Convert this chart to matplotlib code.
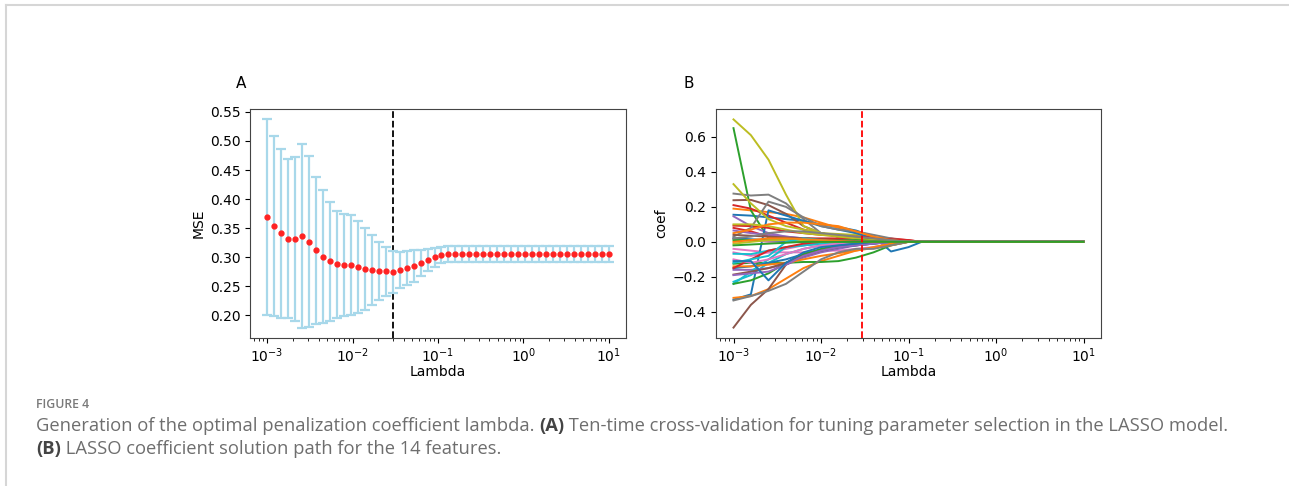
import numpy as np
import matplotlib
matplotlib.use('Agg')
import matplotlib.pyplot as plt
from matplotlib.lines import Line2D

# panel A: ten-fold CV error along the lambda path
lambdas = np.logspace(-3, 1, 50)
mse_mean = [
    0.369, 0.354, 0.341, 0.332, 0.331, 0.337, 0.327, 0.312, 0.301, 0.293,
    0.288, 0.287, 0.286, 0.283, 0.280, 0.278, 0.276, 0.2755, 0.275, 0.278,
    0.281, 0.285, 0.290, 0.2956, 0.2996, 0.304, 0.306, 0.306, 0.306, 0.306,
    0.306, 0.306, 0.306, 0.306, 0.306, 0.306, 0.306, 0.306, 0.306, 0.306,
    0.306, 0.306, 0.306, 0.306, 0.306, 0.306, 0.306, 0.306, 0.306, 0.306,
]
mse_std = [
    0.168, 0.155, 0.145, 0.137, 0.141, 0.158, 0.147, 0.126, 0.114, 0.102,
    0.092, 0.088, 0.086, 0.079, 0.070, 0.060, 0.050, 0.042, 0.036, 0.031,
    0.029, 0.027, 0.023, 0.019, 0.017, 0.014, 0.0135, 0.0135, 0.0135, 0.0135,
    0.0135, 0.0135, 0.0135, 0.0135, 0.0135, 0.0135, 0.0135, 0.0135, 0.0135, 0.0135,
    0.0135, 0.0135, 0.0135, 0.0135, 0.0135, 0.0135, 0.0135, 0.0135, 0.0135, 0.0135,
]
best_lambda = 0.0294

# panel B: coefficient paths, read at these lambdas
lam_b = [0.001, 0.00158, 0.00251, 0.00398, 0.00631, 0.01, 0.0158, 0.0251,
         0.0398, 0.0631, 0.1, 0.141, 10.0]
coef_paths = [
    [0.155, 0.15, 0.14, 0.13, 0.12, 0.10, 0.085, 0.065, 0.03, -0.055, -0.03, 0.0, 0.0],
    [0.19, 0.18, 0.17, 0.16, 0.14, 0.11, 0.08, 0.05, 0.02, 0.0, 0.0, 0.0, 0.0],
    [0.65, 0.18, 0.02, 0.02, 0.02, 0.015, 0.01, 0.005, 0.0, 0.0, 0.0, 0.0, 0.0],
    [0.21, 0.19, 0.15, 0.11, 0.07, 0.05, 0.03, 0.02, 0.01, 0.005, 0.0, 0.0, 0.0],
    [0.146, 0.09, 0.05, 0.03, 0.02, 0.01, 0.0, 0.0, 0.0, 0.0, 0.0, 0.0, 0.0],
    [0.238, 0.24, 0.21, 0.16, 0.09, 0.05, 0.03, 0.02, 0.01, 0.0, 0.0, 0.0, 0.0],
    [-0.04, -0.05, -0.06, -0.06, -0.06, -0.05, -0.05, -0.04, -0.03, -0.01, 0.0, 0.0, 0.0],
    [0.276, 0.265, 0.27, 0.22, 0.13, 0.05, 0.03, 0.02, 0.01, 0.005, 0.0, 0.0, 0.0],
    [0.70, 0.61, 0.47, 0.27, 0.09, 0.05, 0.045, 0.04, 0.02, 0.01, 0.0, 0.0, 0.0],
    [-0.228, -0.19, -0.12, -0.07, -0.04, -0.02, -0.01, 0.0, 0.0, 0.0, 0.0, 0.0, 0.0],
    [-0.33, -0.30, 0.18, 0.15, 0.12, 0.09, 0.07, 0.05, 0.02, 0.0, 0.0, 0.0, 0.0],
    [-0.32, -0.31, -0.27, -0.21, -0.15, -0.11, -0.08, -0.05, -0.03, -0.01, 0.0, 0.0, 0.0],
    [-0.125, -0.12, -0.12, -0.12, -0.115, -0.115, -0.11, -0.09, -0.06, -0.02, 0.0, 0.0, 0.0],
    [0.093, 0.09, 0.08, 0.06, 0.05, 0.04, 0.035, 0.03, 0.025, 0.02, 0.01, 0.0, 0.0],
    [-0.16, -0.16, -0.15, -0.13, -0.09, -0.06, -0.04, -0.02, -0.01, 0.0, 0.0, 0.0, 0.0],
    [-0.49, -0.36, -0.27, -0.13, -0.08, -0.05, -0.03, -0.02, -0.01, 0.0, 0.0, 0.0, 0.0],
    [-0.06, -0.08, -0.06, -0.04, -0.02, -0.01, 0.0, 0.0, 0.0, 0.0, 0.0, 0.0, 0.0],
    [0.03, 0.08, 0.23, 0.20, 0.14, 0.09, 0.07, 0.06, 0.04, 0.02, 0.0, 0.0, 0.0],
    [0.33, 0.22, 0.13, 0.09, 0.07, 0.05, 0.03, 0.02, 0.01, 0.0, 0.0, 0.0, 0.0],
    [-0.24, -0.17, -0.10, -0.03, -0.02, -0.01, 0.0, 0.0, 0.0, 0.0, 0.0, 0.0, 0.0],
    [-0.15, -0.14, -0.12, -0.10, -0.07, -0.05, -0.03, -0.02, -0.01, 0.0, 0.0, 0.0, 0.0],
    [-0.14, -0.14, -0.13, -0.12, -0.10, -0.08, -0.065, -0.05, -0.035, -0.02, 0.0, 0.0, 0.0],
    [-0.24, -0.22, -0.18, -0.12, -0.07, -0.04, -0.02, -0.01, 0.0, 0.0, 0.0, 0.0, 0.0],
    [0.08, 0.06, 0.03, 0.02, 0.02, 0.02, 0.02, 0.02, 0.02, 0.015, 0.01, 0.0, 0.0],
    [0.065, 0.05, 0.04, 0.03, 0.02, 0.01, 0.005, 0.0, 0.0, 0.0, 0.0, 0.0, 0.0],
    [-0.187, -0.17, -0.15, -0.12, -0.08, -0.05, -0.03, -0.01, 0.0, 0.0, 0.0, 0.0, 0.0],
    [0.02, 0.01, 0.0, 0.0, 0.0, 0.0, 0.0, 0.0, 0.0, 0.0, 0.0, 0.0, 0.0],
    [-0.335, -0.31, -0.28, -0.24, -0.17, -0.10, -0.06, -0.04, -0.04, -0.02, 0.0, 0.0, 0.0],
    [0.10, 0.10, 0.09, 0.07, 0.05, 0.04, 0.03, 0.02, 0.01, 0.0, 0.0, 0.0, 0.0],
    [-0.068, -0.07, -0.05, -0.03, -0.02, -0.01, 0.0, 0.0, 0.0, 0.0, 0.0, 0.0, 0.0],
    [0.02, 0.015, 0.01, 0.005, 0.0, 0.0, 0.0, 0.0, 0.0, 0.0, 0.0, 0.0, 0.0],
    [0.05, 0.07, 0.10, 0.11, 0.11, 0.10, 0.09, 0.06, 0.03, 0.01, 0.0, 0.0, 0.0],
    [0.01, 0.01, 0.01, 0.01, 0.01, 0.01, 0.01, 0.01, 0.005, 0.003, 0.0, 0.0, 0.0],
    [-0.15, -0.10, -0.05, -0.03, -0.01, 0.0, 0.0, 0.0, 0.0, 0.0, 0.0, 0.0, 0.0],
    [-0.19, -0.18, -0.17, -0.13, -0.08, -0.05, -0.03, -0.02, -0.01, 0.0, 0.0, 0.0, 0.0],
    [0.04, 0.035, 0.03, 0.025, 0.02, 0.015, 0.01, 0.005, 0.0, 0.0, 0.0, 0.0, 0.0],
    [-0.10, -0.12, -0.10, -0.07, -0.04, -0.02, -0.01, 0.0, 0.0, 0.0, 0.0, 0.0, 0.0],
    [0.02, 0.03, 0.05, 0.06, 0.06, 0.05, 0.04, 0.03, 0.02, 0.01, 0.0, 0.0, 0.0],
    [-0.01, 0.0, 0.01, 0.01, 0.005, 0.0, 0.0, 0.0, 0.0, 0.0, 0.0, 0.0, 0.0],
    [-0.12, -0.10, -0.08, 0.0, 0.02, 0.01, 0.0, 0.0, 0.0, 0.0, 0.0, 0.0, 0.0],
    [-0.11, -0.11, -0.22, -0.12, -0.06, -0.03, -0.02, -0.01, 0.0, 0.0, 0.0, 0.0, 0.0],
    [0.0, 0.01, 0.02, 0.02, 0.015, 0.01, 0.005, 0.0, 0.0, 0.0, 0.0, 0.0, 0.0],
    [-0.02, -0.015, -0.01, -0.005, 0.0, 0.0, 0.0, 0.0, 0.0, 0.0, 0.0, 0.0, 0.0],
]

caption_title = 'FIGURE 4'
caption_line1 = [('Generation of the optimal penalization coefficient lambda. ', False),
                 ('(A)', True),
                 (' Ten-time cross-validation for tuning parameter selection in the LASSO model.', False)]
caption_line2 = [('(B)', True),
                 (' LASSO coefficient solution path for the 14 features.', False)]

W, H = 1289, 486
fig = plt.figure(figsize=(W / 100, H / 100), dpi=100)


def fx(px):
    return px / W


def fy(py):
    return 1 - py / H


# page frame
fig.add_artist(Line2D([fx(6), 1], [fy(5), fy(5)], color='#d6d6d6', lw=1.5))
fig.add_artist(Line2D([fx(6), fx(6)], [fy(5), fy(486)], color='#d6d6d6', lw=1.5))

ax_a = fig.add_axes([fx(250), fy(338), fx(626) - fx(250), fy(109) - fy(338)])
ax_b = fig.add_axes([fx(716), fy(338), fx(1101) - fx(716), fy(109) - fy(338)])

ax_a.errorbar(lambdas, mse_mean, yerr=mse_std, fmt='o', color='#ff2222',
              markersize=3.5, ecolor='#a8d8ea', elinewidth=1.6, capsize=3.5,
              capthick=1.6, zorder=3)
ax_a.axvline(best_lambda, color='black', linestyle='--', lw=1.3)
ax_a.set_xscale('log')
ax_a.set_xlim(10 ** -3.2, 10 ** 1.2)
ax_a.set_xlabel('Lambda', fontsize=10, labelpad=0)
ax_a.set_ylabel('MSE', fontsize=10, labelpad=3)
ax_a.set_yticks([0.20, 0.25, 0.30, 0.35, 0.40, 0.45, 0.50, 0.55])

for path in coef_paths:
    ax_b.plot(lam_b, path, lw=1.4)
ax_b.axvline(best_lambda, color='red', linestyle='--', lw=1.3)
ax_b.set_xscale('log')
ax_b.set_xlim(10 ** -3.2, 10 ** 1.2)
ax_b.set_xlabel('Lambda', fontsize=10, labelpad=0)
ax_b.set_ylabel('coef', fontsize=10, labelpad=3)

for ax in (ax_a, ax_b):
    ax.tick_params(labelsize=10)
    ax.tick_params(axis='x', pad=2.5)
    for sp in ax.spines.values():
        sp.set_color('#444444')

fig.text(fx(236), fy(88), 'A', fontsize=11, family='DejaVu Sans')
fig.text(fx(684), fy(88), 'B', fontsize=11, family='DejaVu Sans')

fig.text(fx(36), fy(408), caption_title, fontsize=8.8, color='#7a7a7a',
         family='Open Sans', fontweight='semibold')

renderer = fig.canvas.get_renderer()


def rich_line(x_px, y_px, parts):
    x = fx(x_px)
    for s, bold in parts:
        t = fig.text(x, fy(y_px), s, fontsize=13.25, family='Open Sans',
                     fontweight='bold' if bold else 'normal',
                     color='#444444' if bold else '#6e6e6e')
        x += t.get_window_extent(renderer).width / fig.bbox.width


rich_line(36, 431, caption_line1)
rich_line(36, 454, caption_line2)

fig.savefig('out.png', dpi=100, facecolor='white')
